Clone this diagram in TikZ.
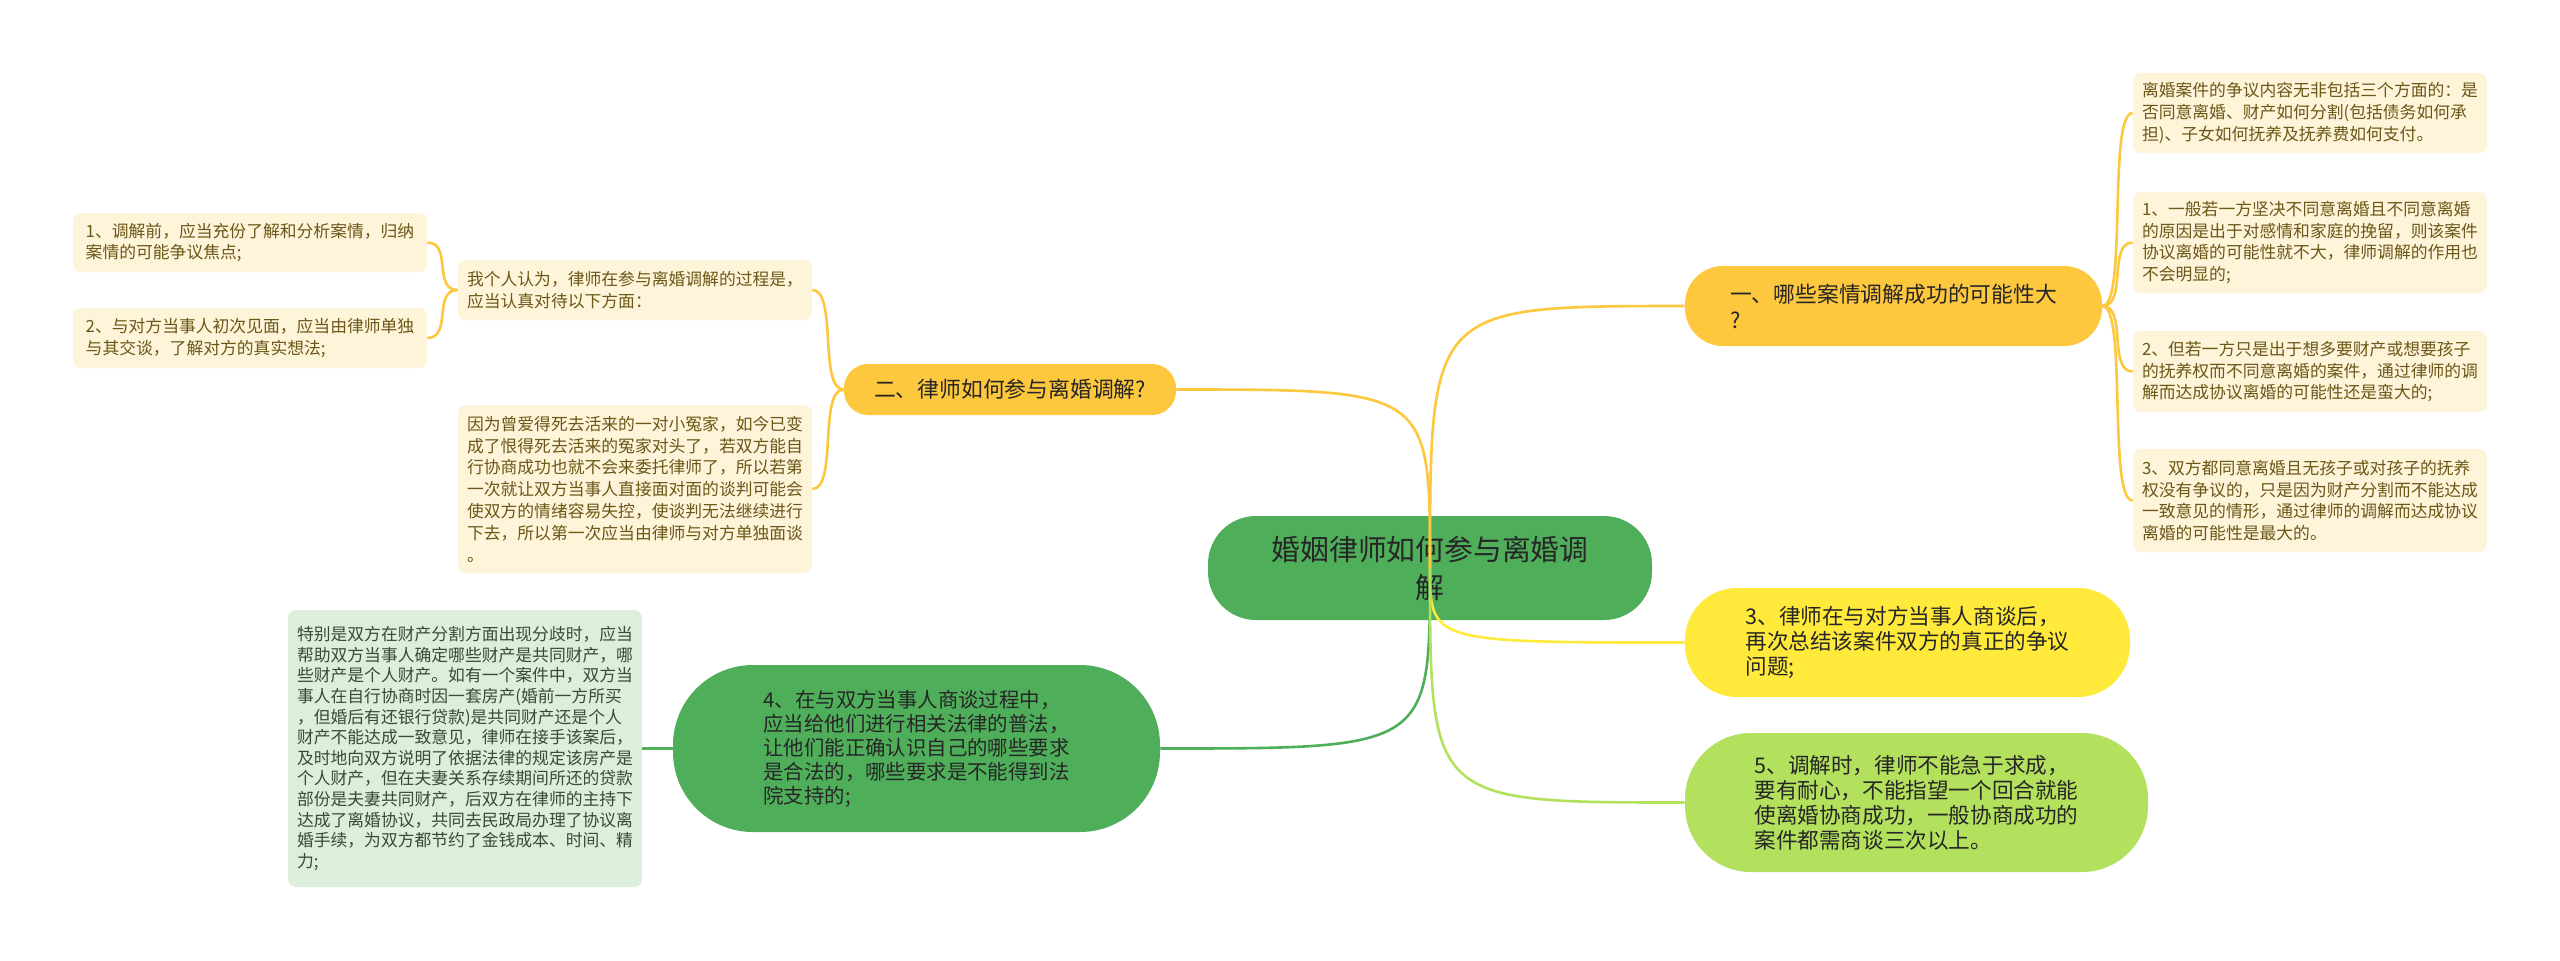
\documentclass[tikz,border=0pt]{standalone}
\usepackage{fontspec}
\setmainfont{Noto Sans CJK SC}
\usepackage{tikz}

\definecolor{rootgreen}{HTML}{4FAE5A}
\definecolor{gold}{HTML}{FDC73E}
\definecolor{lemon}{HTML}{FFE93B}
\definecolor{lime}{HTML}{B3E05D}
\definecolor{paleyellow}{HTML}{FEF4D9}
\definecolor{palegreen}{HTML}{DDEEDC}
\definecolor{leaftext}{HTML}{6B5717}
\definecolor{greentext}{HTML}{3A4A37}

\tikzset{
  topic/.style={draw=none, align=left, text=black!85, inner sep=3pt},
  leaf/.style={draw=none, fill=paleyellow, rounded corners=4pt, align=left,
    text=leaftext, minimum width=177pt, inner sep=3pt,
    font=\fontsize{8.4pt}{10.9pt}\selectfont},
  link/.style={line width=1.3pt},
}

\begin{document}
\begin{tikzpicture}[x=0.5pt,y=-0.5pt]
%%%
% canvas 2560 x 960
%%%
\useasboundingbox[fill=white] (0,0) rectangle (2560,960);

% main branches
\node[topic, fill=rootgreen, minimum width=222pt, minimum height=52pt,
  rounded corners=24pt, align=center, font=\fontsize{14.4pt}{19pt}\selectfont]
  (root) at (1430,568) {婚姻律师如何参与离婚调\\解};
\node[topic, fill=gold, minimum width=208.5pt, minimum height=40pt,
  rounded corners=19pt, font=\fontsize{10.9pt}{13pt}\selectfont]
  (reason) at (1893.5,306) {一、哪些案情调解成功的可能性大\\?};
\node[topic, fill=gold, minimum width=166pt, minimum height=25.5pt,
  rounded corners=12pt, font=\fontsize{10.9pt}{13pt}\selectfont]
  (howto) at (1010,389.5) {二、律师如何参与离婚调解?};
\node[topic, fill=lemon, minimum width=222.5pt, minimum height=54.5pt,
  rounded corners=26pt, font=\fontsize{10.8pt}{12.5pt}\selectfont]
  (summary) at (1907.5,642.5) {3、律师在与对方当事人商谈后，\\再次总结该案件双方的真正的争议\\问题;};
\node[topic, fill=rootgreen, minimum width=243.5pt, minimum height=83.5pt,
  rounded corners=40pt, font=\fontsize{10.2pt}{12pt}\selectfont]
  (lawtalk) at (916.5,748.5) {4、在与双方当事人商谈过程中，\\应当给他们进行相关法律的普法，\\让他们能正确认识自己的哪些要求\\是合法的，哪些要求是不能得到法\\院支持的;};
\node[topic, fill=lime, minimum width=231.5pt, minimum height=69.5pt,
  rounded corners=33pt, font=\fontsize{10.8pt}{12.5pt}\selectfont]
  (patience) at (1916.5,802.5) {5、调解时，律师不能急于求成，\\要有耐心，不能指望一个回合就能\\使离婚协商成功，一般协商成功的\\案件都需商谈三次以上。};

% leaves on the right
\node[leaf, minimum height=40pt] (scope) at (2310,113)
  {离婚案件的争议内容无非包括三个方面的：是\\否同意离婚、财产如何分割(包括债务如何承\\担)、子女如何抚养及抚养费如何支付。};
\node[leaf, minimum height=50.5pt] (caseone) at (2310,242.5)
  {1、一般若一方坚决不同意离婚且不同意离婚\\的原因是出于对感情和家庭的挽留，则该案件\\协议离婚的可能性就不大，律师调解的作用也\\不会明显的;};
\node[leaf, minimum height=40.5pt] (casetwo) at (2310,371.5)
  {2、但若一方只是出于想多要财产或想要孩子\\的抚养权而不同意离婚的案件，通过律师的调\\解而达成协议离婚的可能性还是蛮大的;};
\node[leaf, minimum height=51.5pt] (casethree) at (2310,500.5)
  {3、双方都同意离婚且无孩子或对孩子的抚养\\权没有争议的，只是因为财产分割而不能达成\\一致意见的情形，通过律师的调解而达成协议\\离婚的可能性是最大的。};

% leaves on the left
\node[leaf, minimum height=30pt] (opinion) at (635,290)
  {我个人认为，律师在参与离婚调解的过程是，\\应当认真对待以下方面：};
\node[leaf, minimum height=84pt] (enemies) at (635,489)
  {因为曾爱得死去活来的一对小冤家，如今已变\\成了恨得死去活来的冤家对头了，若双方能自\\行协商成功也就不会来委托律师了，所以若第\\一次就让双方当事人直接面对面的谈判可能会\\使双方的情绪容易失控，使谈判无法继续进行\\下去，所以第一次应当由律师与对方单独面谈\\。};
\node[leaf, minimum height=29.5pt] (prepare) at (250,242.5)
  {1、调解前，应当充份了解和分析案情，归纳\\案情的可能争议焦点;};
\node[leaf, minimum height=30pt] (firstmeet) at (250,338)
  {2、与对方当事人初次见面，应当由律师单独\\与其交谈，了解对方的真实想法;};
\node[leaf, fill=palegreen, text=greentext, minimum height=138.5pt,
  font=\fontsize{8.4pt}{10.3pt}\selectfont] (property) at (465,748.5)
  {特别是双方在财产分割方面出现分歧时，应当\\帮助双方当事人确定哪些财产是共同财产，哪\\些财产是个人财产。如有一个案件中，双方当\\事人在自行协商时因一套房产(婚前一方所买\\，但婚后有还银行贷款)是共同财产还是个人\\财产不能达成一致意见，律师在接手该案后，\\及时地向双方说明了依据法律的规定该房产是\\个人财产，但在夫妻关系存续期间所还的贷款\\部份是夫妻共同财产，后双方在律师的主持下\\达成了离婚协议，共同去民政局办理了协议离\\婚手续，为双方都节约了金钱成本、时间、精\\力;};

% connectors
\draw[link, gold] (root.center) .. controls (1430,306) .. (reason.west);
\draw[link, gold] (root.center) .. controls (1430,389.5) .. (howto.east);
\draw[link, lemon] (root.center) .. controls (1430,642.5) .. (summary.west);
\draw[link, rootgreen] (root.center) .. controls (1430,748.5) .. (lawtalk.east);
\draw[link, lime] (root.center) .. controls (1430,802.5) .. (patience.west);

\foreach \leafname in {scope,caseone,casetwo,casethree}
  \draw[link, gold] (reason.east) .. controls +(25,0) and +(-25,0) .. (\leafname.west);
\foreach \leafname in {opinion,enemies}
  \draw[link, gold] (howto.west) .. controls +(-25,0) and +(25,0) .. (\leafname.east);
\foreach \leafname in {prepare,firstmeet}
  \draw[link, gold] (opinion.west) .. controls +(-25,0) and +(25,0) .. (\leafname.east);
\draw[link, rootgreen] (lawtalk.west) -- (property.east);
\end{tikzpicture}
\end{document}
